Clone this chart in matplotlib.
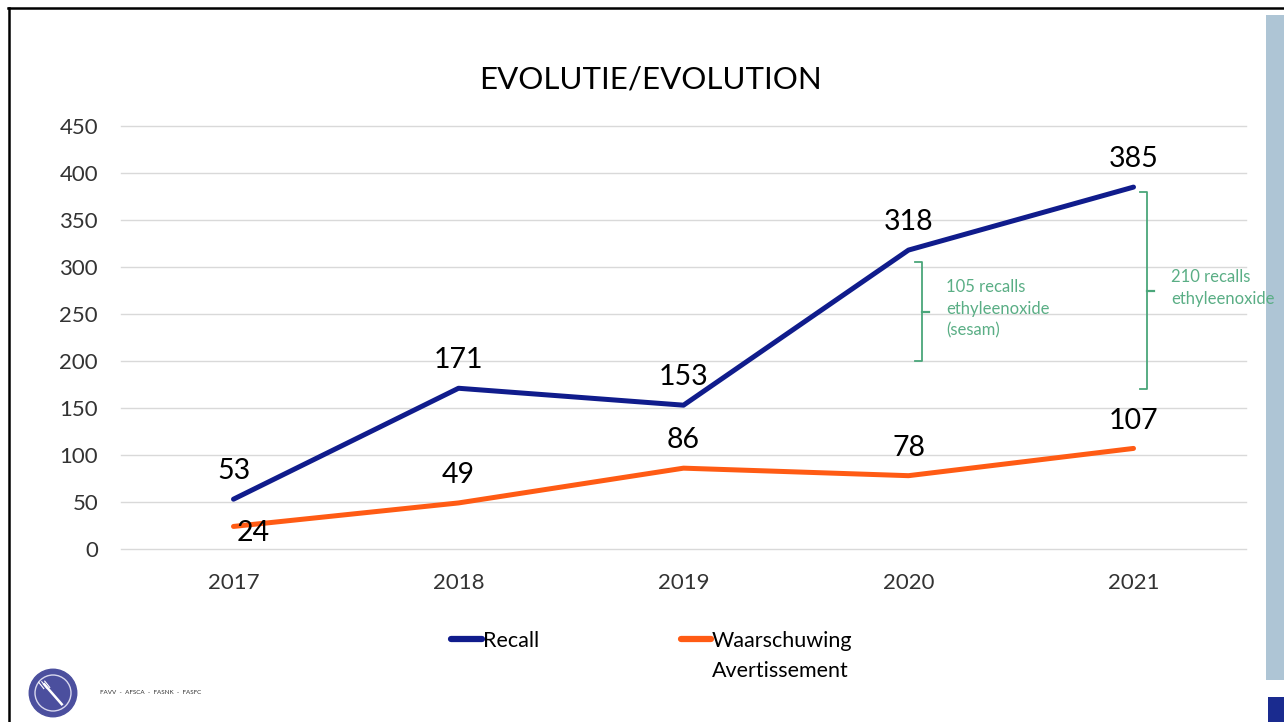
import numpy as np
import matplotlib
matplotlib.use('Agg')
import matplotlib.pyplot as plt
from matplotlib.lines import Line2D
from matplotlib.patches import Rectangle, Circle

plt.rcParams['font.family'] = ['Lato', 'DejaVu Sans']

# Données
years = ['2017', '2018', '2019', '2020', '2021']
recall = [53, 171, 153, 318, 385]
warning = [24, 49, 86, 78, 107]
y_ticks = [0, 50, 100, 150, 200, 250, 300, 350, 400, 450]

# Accolades "ethyleenoxide" : (année, bas, haut, texte)
braces = [
    ('2020', 200, 305, '105 recalls\nethyleenoxide\n(sesam)'),
    ('2021', 170, 380, '210 recalls\nethyleenoxide'),
]

BLUE = '#101c8c'
ORANGE = '#ff5b14'
GREEN = '#4aa67a'

fig = plt.figure(figsize=(12.84, 7.22), dpi=100)
W, H = 1284, 722

# Cadre de la diapo
fig.add_artist(Line2D([8 / W, 1], [1 - 8 / H, 1 - 8 / H], color='black', lw=1.8))
fig.add_artist(Line2D([9 / W, 9 / W], [0, 1 - 8 / H], color='black', lw=1.8))
fig.add_artist(Rectangle((1266 / W, 1 - 680 / H), 18 / W, 665 / H,
                         transform=fig.transFigure, color='#aec5d5', lw=0, zorder=-1))
fig.add_artist(Rectangle((1268 / W, 0), 16 / W, 25 / H,
                         transform=fig.transFigure, color='#1a2b8f', lw=0, zorder=-1))

ax = fig.add_axes([121 / W, 173 / H, 1125 / W, 423 / H])
ax.patch.set_alpha(0)
x = np.arange(len(years))

ax.plot(x, recall, color=BLUE, lw=3.6, solid_capstyle='round', label='Recall')
ax.plot(x, warning, color=ORANGE, lw=3.6, solid_capstyle='round', label='Waarschuwing')

# Étiquettes de valeurs
for xi, v in zip(x, recall):
    ax.annotate(str(v), (xi, v), xytext=(0, 20), textcoords='offset points',
                ha='center', va='center', fontsize=20.5, color='black')
for xi, v in zip(x, warning):
    off = (14, -5) if xi == 0 else (0, 20)
    ax.annotate(str(v), (xi, v), xytext=off, textcoords='offset points',
                ha='center', va='center', fontsize=20.5, color='black')

# Accolades
for yr, lo, hi, txt in braces:
    xb = years.index(yr)
    ax.plot([xb + 0.03, xb + 0.06, xb + 0.06, xb + 0.03], [hi, hi, lo, lo],
            color=GREEN, lw=1.3, clip_on=False)
    mid = (lo + hi) / 2
    ax.plot([xb + 0.06, xb + 0.09], [mid, mid], color=GREEN, lw=1.6, clip_on=False)
    ax.annotate(txt, (xb + 0.09, mid + 3), xytext=(12.5, 0), textcoords='offset points',
                color='#5aae85', fontsize=12, ha='left', va='center',
                linespacing=1.45, annotation_clip=False)

ax.set_xlim(-0.5, len(years) - 0.5)
ax.set_ylim(0, 450)
ax.set_yticks(y_ticks)
ax.set_xticks(x)
ax.set_xticklabels(years)
ax.tick_params(axis='both', length=0, labelsize=16, labelcolor='#333333')
ax.tick_params(axis='x', pad=17)
ax.tick_params(axis='y', pad=16.5)
ax.grid(axis='y', color='#d9d9d9', lw=1)
for gl in ax.get_ygridlines():
    gl.set_clip_on(False)
ax.set_axisbelow(True)
for s in ax.spines.values():
    s.set_visible(False)

fig.text(650 / W, 1 - 80 / H, 'EVOLUTIE/EVOLUTION', ha='center', va='center',
         fontsize=22.5, color='black')

handles, labels = ax.get_legend_handles_labels()
leg = fig.legend(handles, labels, loc='center', bbox_to_anchor=(652 / W, 1 - 641 / H),
                 ncol=2, frameon=False, fontsize=15.5, handlelength=1.4,
                 handletextpad=0.05, columnspacing=6.6)
for h in leg.legend_handles:
    h.set_linewidth(4.5)

fig.canvas.draw()
bb = leg.get_texts()[1].get_window_extent()
fig.text(bb.x0 / W, (bb.y0 - 10) / H, 'Avertissement', ha='left', va='top',
         fontsize=15.5, color='black')

# Logo + texte en bas à gauche
lax = fig.add_axes([28 / W, 1 - 718 / H, 50 / W, 50 / H])
lax.set_xlim(-1, 1)
lax.set_ylim(-1, 1)
lax.set_aspect('equal')
lax.axis('off')
lax.add_patch(Circle((0, 0), 0.95, color='#4b4f9e'))
lax.add_patch(Circle((0, 0), 0.72, fill=False, ec='#d8d8ee', lw=1))
lax.plot([-0.35, 0.35], [0.35, -0.45], color='white', lw=1.8)
for dx in (-0.12, 0.0, 0.12):
    lax.plot([-0.45 + dx, -0.25 + dx], [0.45 + dx * 0.2, 0.2 + dx * 0.2], color='white', lw=0.8)
fig.text(100 / W, 1 - 692 / H, 'FAVV  -  AFSCA  -  FASNK  -  FASFC', fontsize=4.5,
         ha='left', va='center', color='#333333')

fig.savefig('out.png', dpi=100)
